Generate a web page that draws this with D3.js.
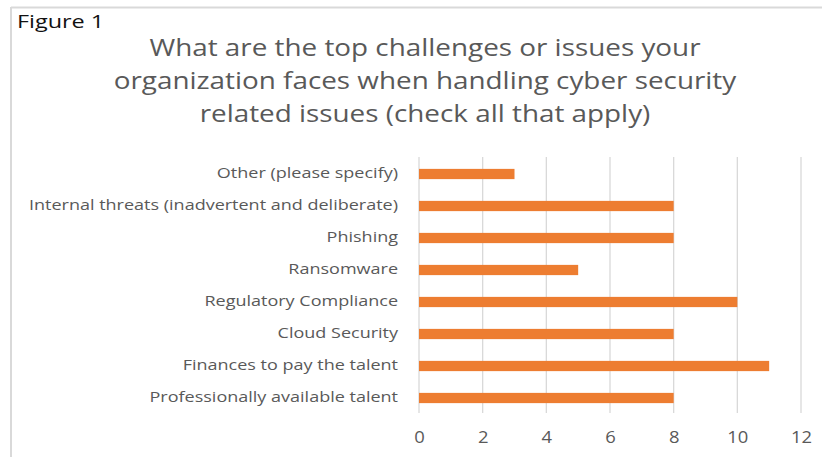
<!DOCTYPE html>
<html>
<head>
<meta charset="utf-8">
<script src="https://cdn.jsdelivr.net/npm/d3@7"></script>
<style>
  body { margin: 0; background: #fff; }
  text { font-family: "Open Sans", "Noto Sans", sans-serif; }
</style>
</head>
<body>
<script>
// Data
var categories = [
  "Other (please specify)",
  "Internal threats (inadvertent and deliberate)",
  "Phishing",
  "Ransomware",
  "Regulatory Compliance",
  "Cloud Security",
  "Finances to pay the talent",
  "Professionally available talent"
];
var counts = [3, 8, 8, 5, 10, 8, 11, 8];
var xTicks = [0, 2, 4, 6, 8, 10, 12];
var titleLines = [
  "What are the top challenges or issues your",
  "organization faces when handling cyber security",
  "related issues (check all that apply)"
];

var W = 822, H = 457;
var margin = {left: 419, right: 21, top: 157, bottom: 44};

var svg = d3.select("body").append("svg")
    .attr("width", W)
    .attr("height", H);

// the source picture is a bit wider than tall, so widen the glyphs
function stretch(sel, k) {
  sel.each(function() {
    var w = this.getComputedTextLength();
    d3.select(this)
      .attr("textLength", w * k)
      .attr("lengthAdjust", "spacingAndGlyphs");
  });
}

// Frame (top and left edges only visible)
svg.append("line")
    .attr("x1", 11).attr("x2", W).attr("y1", 7.5).attr("y2", 7.5)
    .attr("stroke", "#d9d9d9").attr("stroke-width", 2);
svg.append("line")
    .attr("x1", 11).attr("x2", 11).attr("y1", 7).attr("y2", H)
    .attr("stroke", "#d9d9d9").attr("stroke-width", 2);

svg.append("text")
    .attr("x", 17).attr("y", 28)
    .attr("font-size", "18px")
    .attr("fill", "#111")
    .text("Figure 1")
    .call(stretch, 1.3);

svg.selectAll(".title")
    .data(titleLines)
    .enter().append("text")
    .attr("class", "title")
    .attr("x", 425)
    .attr("y", function(d, i) { return 56 + i * 33; })
    .attr("text-anchor", "middle")
    .attr("font-size", "24px")
    .attr("fill", "#595959")
    .text(function(d) { return d; })
    .call(stretch, 1.16);

var x = d3.scaleLinear()
    .domain([0, 12])
    .range([margin.left, W - margin.right]);

var y = d3.scaleBand()
    .domain(categories)
    .range([margin.top, H - margin.bottom])
    .paddingInner(0.68)
    .paddingOuter(0.34);

// Gridlines
svg.append("g")
    .selectAll("line")
    .data(xTicks)
    .enter().append("line")
    .attr("x1", function(d) { return x(d); })
    .attr("x2", function(d) { return x(d); })
    .attr("y1", margin.top)
    .attr("y2", H - margin.bottom)
    .attr("stroke", "#d9d9d9")
    .attr("stroke-width", 1.3);

// Bars
svg.append("g")
    .selectAll("rect")
    .data(counts)
    .enter().append("rect")
    .attr("x", x(0))
    .attr("y", function(d, i) { return y(categories[i]) + 1; })
    .attr("width", function(d) { return x(d) - x(0); })
    .attr("height", y.bandwidth())
    .attr("fill", "#ed7d31");

// Category labels
var yAxis = svg.append("g")
    .attr("transform", "translate(" + (margin.left - 6) + ",0)")
    .call(d3.axisLeft(y).tickSize(0).tickPadding(15));
yAxis.select(".domain").remove();
yAxis.selectAll("text")
    .attr("font-size", "15px")
    .attr("fill", "#595959")
    .style("font-family", "'Open Sans', sans-serif")
    .call(stretch, 1.2);

// Value axis labels
var xAxis = svg.append("g")
    .attr("transform", "translate(0," + (H - margin.bottom) + ")")
    .call(d3.axisBottom(x).tickValues(xTicks).tickSize(0).tickPadding(19));
xAxis.select(".domain").remove();
xAxis.selectAll("text")
    .attr("font-size", "16px")
    .attr("fill", "#595959")
    .style("font-family", "'Open Sans', sans-serif")
    .call(stretch, 1.15);
</script>
</body>
</html>
